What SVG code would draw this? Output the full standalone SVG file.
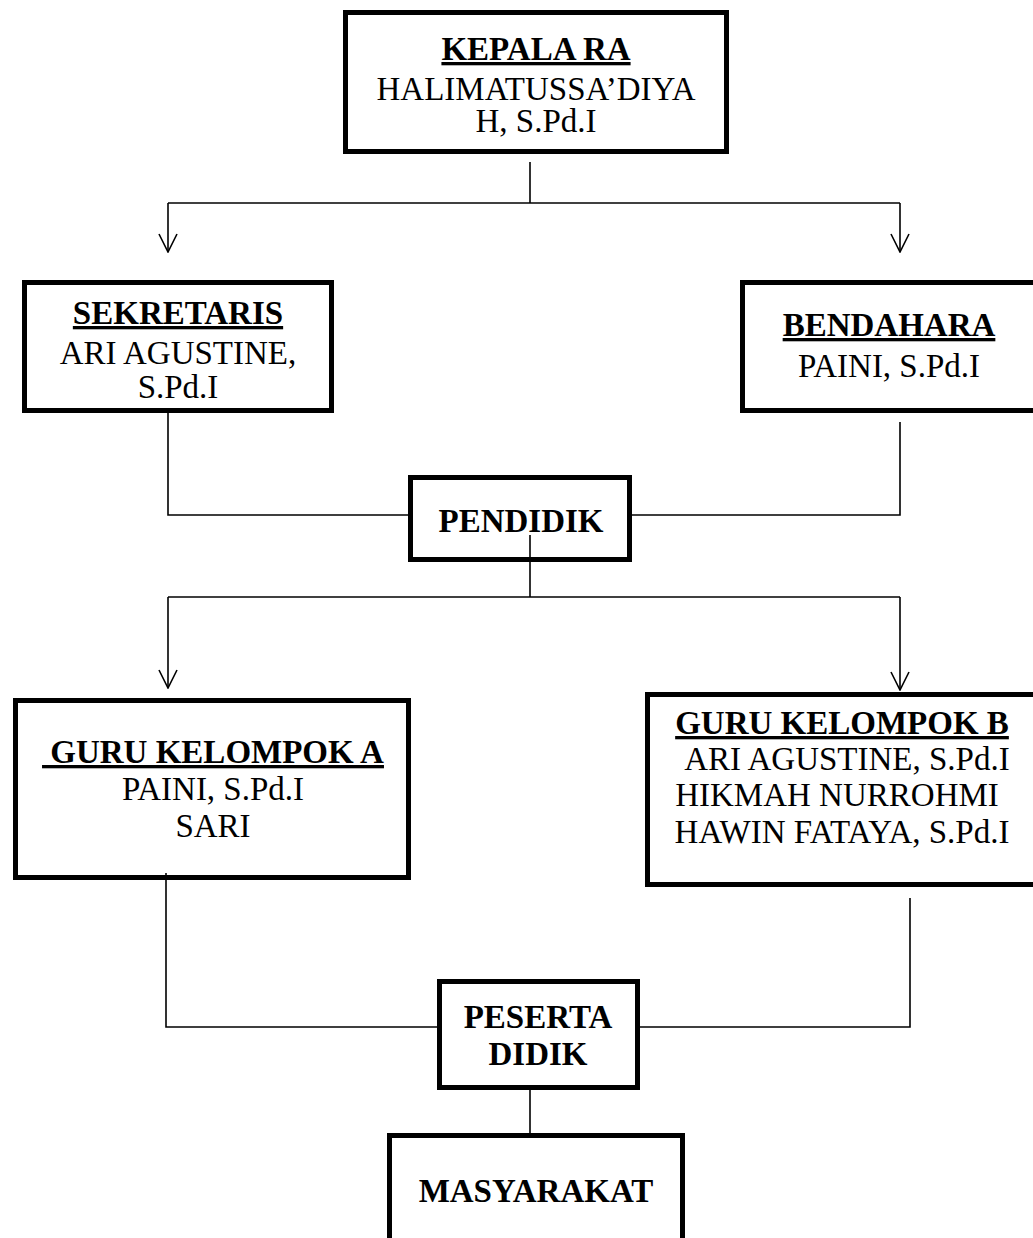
<svg xmlns="http://www.w3.org/2000/svg" width="1033" height="1238" viewBox="0 0 1033 1238">
<defs>
<style>
.box{fill:#fff;stroke:#000;stroke-width:5}
.t{font-family:"Liberation Serif","Times New Roman",serif;font-size:33px;fill:#000;text-anchor:middle}
.b{font-weight:bold}
.u{text-decoration:underline}
.c{fill:none;stroke:#000;stroke-width:1.6}
</style>
<marker id="ah" viewBox="0 0 20 20" refX="19" refY="10" markerWidth="20" markerHeight="20" markerUnits="userSpaceOnUse" orient="auto">
<path d="M1,1 L19,10 L1,19" fill="none" stroke="#000" stroke-width="1.6"/>
</marker>
</defs>
<rect width="1033" height="1238" fill="#fff"/>

<g id="connectors">
<path class="c" d="M530,162 V203"/>
<path class="c" d="M168,203 H900"/>
<path class="c" d="M168,203 V252" marker-end="url(#ah)"/>
<path class="c" d="M900,203 V252" marker-end="url(#ah)"/>
<path class="c" d="M168,413 V515 H410"/>
<path class="c" d="M900,422 V515 H632"/>
<path class="c" d="M530,535 V597"/>
<path class="c" d="M168,597 H900"/>
<path class="c" d="M168,597 V688" marker-end="url(#ah)"/>
<path class="c" d="M900,597 V690" marker-end="url(#ah)"/>
<path class="c" d="M166,873 V1027 H439"/>
<path class="c" d="M910,898 V1027 H638"/>
<path class="c" d="M530,1090 V1133"/>
</g>

<g id="kepala">
<rect class="box" x="345.5" y="12.5" width="381" height="139"/>
<text class="t b u" x="536" y="60">KEPALA RA</text>
<text class="t" x="536" y="100">HALIMATUSSA’DIYA</text>
<text class="t" x="536" y="132">H, S.Pd.I</text>
</g>

<g id="sekretaris">
<rect class="box" x="24.5" y="282.5" width="307" height="128"/>
<text class="t b u" x="178" y="324">SEKRETARIS</text>
<text class="t" x="178" y="364">ARI AGUSTINE,</text>
<text class="t" x="178" y="398">S.Pd.I</text>
</g>

<g id="bendahara">
<rect class="box" x="742.5" y="282.5" width="300" height="128"/>
<text class="t b u" x="889" y="336">BENDAHARA</text>
<text class="t" x="889" y="377">PAINI, S.Pd.I</text>
</g>

<g id="pendidik">
<rect class="box" x="410.5" y="477.5" width="219" height="82"/>
<text class="t b" x="521" y="532">PENDIDIK</text>
</g>
<path class="c" d="M530,535 V560"/>

<g id="guru-a">
<rect class="box" x="15.5" y="700.5" width="393" height="177"/>
<text class="t b u" x="213" y="763" xml:space="preserve"> GURU KELOMPOK A</text>
<text class="t" x="213" y="800">PAINI, S.Pd.I</text>
<text class="t" x="213" y="837">SARI</text>
</g>
<path class="c" d="M166,873 V878"/>

<g id="guru-b">
<rect class="box" x="647.5" y="694.5" width="395" height="190"/>
<text class="t b u" x="842" y="734">GURU KELOMPOK B</text>
<text class="t" x="847" y="770">ARI AGUSTINE, S.Pd.I</text>
<text class="t" x="837" y="806">HIKMAH NURROHMI</text>
<text class="t" x="842" y="843">HAWIN FATAYA, S.Pd.I</text>
</g>

<g id="peserta-didik">
<rect class="box" x="439.5" y="981.5" width="198" height="106"/>
<text class="t b" x="538" y="1028">PESERTA</text>
<text class="t b" x="538" y="1065">DIDIK</text>
</g>

<g id="masyarakat">
<rect class="box" x="389.5" y="1135.5" width="293" height="120"/>
<text class="t b" x="536" y="1202">MASYARAKAT</text>
</g>
</svg>
